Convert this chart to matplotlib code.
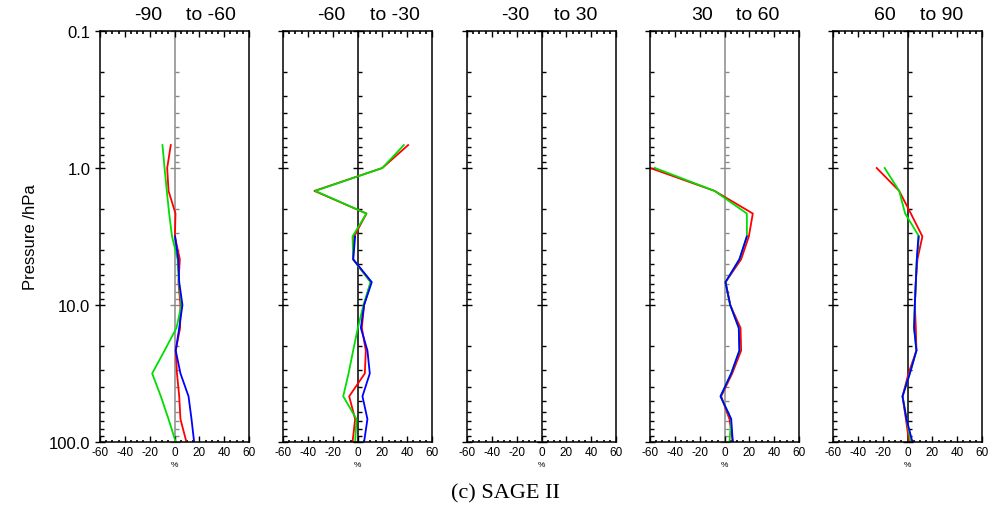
import numpy as np
import matplotlib.pyplot as plt
from matplotlib.ticker import MultipleLocator, LogLocator, NullFormatter, FixedLocator

nan = np.nan

# pressure levels (hPa), top to bottom
levels = [0.68, 1.0, 1.47, 2.15, 3.16, 4.64, 6.81, 10.0, 14.7, 21.5, 31.6, 46.4, 68.1, 100.0]

titles = [("-90", "to -60"), ("-60", "to -30"), ("-30", "to 30"), ("30", "to 60"), ("60", "to 90")]

# percent differences per latitude band
p1_red = [-3.0, -5.9, -4.8, 0.8, 0.3, 4.3, 3.2, 4.8, 4.5, 1.0, 2.0, 3.8, 4.8, 9.6]
p1_green = [-9.7, -8.0, -6.2, -4.3, -2.0, 2.5, 3.5, 5.6, 1.6, -8.0, -18.0, -11.0, -4.8, 1.0]
p1_blue = [nan, nan, nan, nan, 0.5, 3.0, 3.8, 6.4, 3.8, 1.0, 4.8, 11.3, 13.7, 15.8]

p2_red = [40.8, 20.0, -34.7, 7.2, -2.7, -3.5, 10.7, 5.3, 3.5, 6.7, 5.9, -6.7, -1.9, -4.0]
p2_green = [37.3, 20.0, -34.0, 7.2, -4.0, -3.5, 10.5, 4.8, 0.3, -3.5, -7.2, -11.5, -0.8, -1.9]
p2_blue = [nan, nan, nan, nan, -1.9, -3.5, 11.5, 5.3, 2.7, 8.0, 9.9, 4.0, 8.0, 5.3]

p3_red = [nan] * 14
p3_green = [nan] * 14
p3_blue = [nan] * 14

p4_red = [nan, -59.8, -8.0, 22.8, 19.6, 13.4, 0.8, 4.6, 12.9, 13.4, 6.2, -2.7, 4.0, 6.7]
p4_green = [nan, -56.0, -8.0, 18.0, 18.0, 12.0, 0.8, 4.6, 11.5, 12.0, 5.4, -3.2, 5.4, 4.0]
p4_blue = [nan, nan, nan, nan, 18.0, 12.0, 0.8, 4.6, 11.5, 12.0, 5.4, -3.2, 5.4, 6.7]

p5_red = [nan, -24.8, -6.7, 2.7, 12.0, 8.0, 6.7, 5.9, 6.7, 7.2, 0.8, -4.0, -1.3, 1.3]
p5_green = [nan, -18.4, -6.7, -1.9, 9.3, 7.5, 6.7, 5.9, 5.3, 7.2, 1.9, -4.0, -0.8, 2.7]
p5_blue = [nan, nan, nan, nan, 8.8, 7.5, 6.7, 5.9, 5.3, 7.2, 1.9, -4.0, -0.8, 4.0]

reds = [p1_red, p2_red, p3_red, p4_red, p5_red]
greens = [p1_green, p2_green, p3_green, p4_green, p5_green]
blues = [p1_blue, p2_blue, p3_blue, p4_blue, p5_blue]
zero_col = ['#8a8a8a', 'black', 'black', '#8a8a8a', 'black']

plt.rcParams['font.family'] = ['Liberation Sans', 'DejaVu Sans']
plt.rcParams['axes.unicode_minus'] = False

W, H = 992, 510
fig = plt.figure(figsize=(W / 100, H / 100), dpi=100)

lefts = [100, 283, 467, 650, 833]
pw = 149
top_px, bot_px = 32, 443

def setup_y(a):
    a.set_yscale('log')
    a.set_ylim(100, 0.1)
    a.yaxis.set_major_locator(FixedLocator([0.1, 1, 10, 100]))
    a.yaxis.set_minor_locator(LogLocator(base=10, subs=np.arange(2, 10)))
    a.yaxis.set_minor_formatter(NullFormatter())

for i in range(5):
    ax = fig.add_axes([lefts[i] / W, 1 - bot_px / H, pw / W, (bot_px - top_px) / H])
    ax.plot(reds[i], levels, color='red', lw=1.3)
    ax.plot(greens[i], levels, color='#00dd00', lw=1.3)
    ax.plot(blues[i], levels, color='blue', lw=1.3)
    ax.set_xlim(-60, 60)
    setup_y(ax)
    ax.xaxis.set_major_locator(MultipleLocator(20))
    ax.xaxis.set_minor_locator(MultipleLocator(5))
    ax.tick_params(axis='x', which='major', direction='in', top=True, length=4, width=1,
                   labelsize=8.5, pad=3)
    ax.tick_params(axis='x', which='minor', direction='in', top=True, length=1.8, width=1.2)
    ax.tick_params(axis='y', which='major', direction='inout', right=True, length=7, width=1)
    ax.tick_params(axis='y', which='minor', direction='in', right=True, length=3, width=1)
    for s in ax.spines.values():
        s.set_linewidth(1.1)
    if i == 0:
        ax.set_yticklabels(['0.1', '1.0', '10.0', '100.0'], fontsize=12)
        ax.set_ylabel('Pressure /hPa', fontsize=12, labelpad=8)
    else:
        ax.set_yticklabels([])
    ax.set_xlabel('%', fontsize=6, labelpad=2)

    # axis drawn along x = 0
    zax = ax.twinx()
    setup_y(zax)
    for k in ['top', 'bottom', 'right']:
        zax.spines[k].set_visible(False)
    zax.spines['left'].set_position(('data', 0))
    zax.spines['left'].set_color(zero_col[i])
    zax.spines['left'].set_linewidth(1.1)
    zax.yaxis.tick_left()
    zax.tick_params(axis='y', which='major', direction='inout', length=7, width=1,
                    labelleft=False, color=zero_col[i])
    zax.tick_params(axis='y', which='minor', direction='in', length=3, width=1,
                    color=zero_col[i])
    zax.set_zorder(ax.get_zorder() - 1)
    ax.patch.set_visible(False)

    cx = (lefts[i] + pw / 2) / W
    fig.text(cx - 12 / W, 1 - 15 / H, titles[i][0], ha='right', va='center', fontsize=14)
    fig.text(cx + 12 / W, 1 - 15 / H, titles[i][1], ha='left', va='center', fontsize=14)

fig.text(505 / W, 1 - 494 / H, '(c) SAGE II', ha='center', va='center', fontsize=16,
         family='Liberation Serif')

fig.savefig('out.png', dpi=100)
